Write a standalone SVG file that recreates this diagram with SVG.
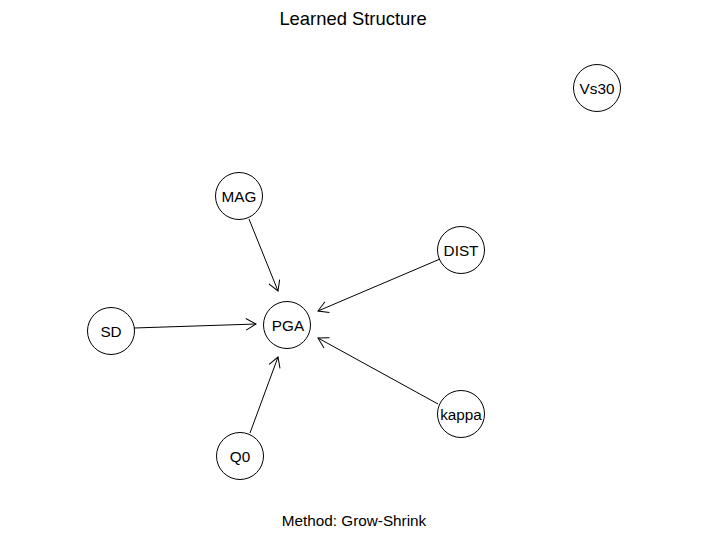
<svg xmlns="http://www.w3.org/2000/svg" width="709" height="533" viewBox="0 0 709 533">
<style>
.node circle{fill:none;stroke:#000;stroke-width:1}
.node text{font-family:"Liberation Sans",Arial,sans-serif;font-size:15.3px;text-anchor:middle;fill:#000}
.edge{stroke:#000;stroke-width:1;fill:none;marker-end:url(#arr)}
.title{font-family:"Liberation Sans",Arial,sans-serif;text-anchor:middle;fill:#000}
</style>
<defs>
<marker id="arr" viewBox="-11 -7 12 14" markerWidth="12" markerHeight="14" refX="0" refY="0" orient="auto" markerUnits="userSpaceOnUse">
<path d="M-10,-5.8 L0,0 L-10,5.8" fill="none" stroke="#000" stroke-width="1"/>
</marker>
</defs>
<rect width="709" height="533" fill="#fff"/>
<text class="title" x="353" y="25" font-size="18.4">Learned Structure</text>
<text class="title" x="354" y="526" font-size="15.3">Method: Grow-Shrink</text>
<g id="edges">
<line class="edge" x1="249" y1="219" x2="278" y2="291"/>
<line class="edge" x1="134" y1="328" x2="256" y2="324"/>
<line class="edge" x1="440" y1="259" x2="318" y2="311"/>
<line class="edge" x1="438" y1="404" x2="318" y2="338"/>
<line class="edge" x1="250" y1="433" x2="278" y2="357"/>
</g>
<g id="Vs30" class="node"><circle cx="597" cy="88" r="23.5"/><text x="597" y="93.5">Vs30</text></g>
<g id="MAG" class="node"><circle cx="239" cy="196" r="23.5"/><text x="239" y="201.5">MAG</text></g>
<g id="DIST" class="node"><circle cx="461" cy="250" r="23.5"/><text x="461" y="255.5">DIST</text></g>
<g id="PGA" class="node"><circle cx="287" cy="325" r="23.5"/><text x="288" y="330.5">PGA</text></g>
<g id="SD" class="node"><circle cx="111" cy="331" r="23.5"/><text x="111" y="336.5">SD</text></g>
<g id="kappa" class="node"><circle cx="461" cy="414" r="23.5"/><text x="461" y="419.5">kappa</text></g>
<g id="Q0" class="node"><circle cx="240" cy="456" r="23.5"/><text x="240" y="461.5">Q0</text></g>
</svg>
